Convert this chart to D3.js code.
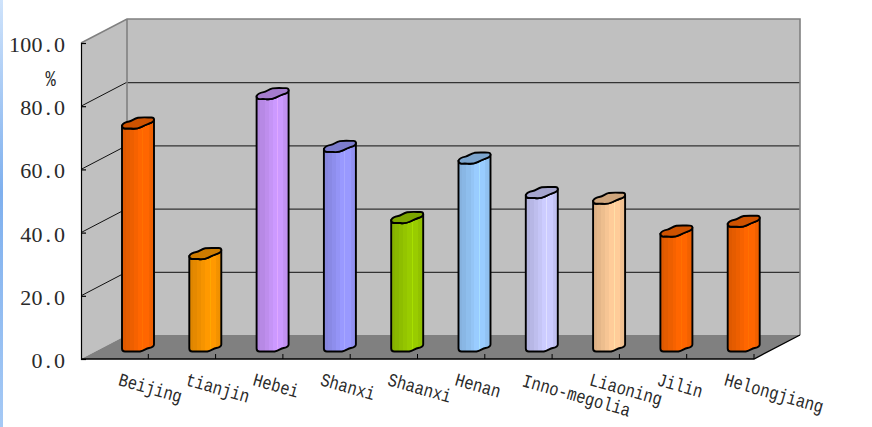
<!DOCTYPE html>
<html>
<head>
<meta charset="utf-8">
<script src="https://cdn.jsdelivr.net/npm/d3@7"></script>
<style>
html, body { margin: 0; padding: 0; background: #fff; }
svg { display: block; }
text { fill: #2a2a2a; }
</style>
</head>
<body>
<div id="chart"></div>
<script>
// Share (%) by province
const categories = ["Beijing", "tianjin", "Hebei", "Shanxi", "Shaanxi", "Henan", "Inno-megolia", "Liaoning", "Jilin", "Helongjiang"];
const values = [72.3, 31.0, 81.6, 64.9, 42.4, 61.2, 50.3, 48.5, 38.1, 41.2];
const barColors = ["#FF6600", "#FF9900", "#CC99FF", "#9999FF", "#99CC00", "#99CCFF", "#CCCCFF", "#FFCC99", "#FF6600", "#FF6600"];
const yTicks = [0, 20, 40, 60, 80, 100];
const yUnit = "%";

const width = 872, height = 427;
const plot = { left: 81, right: 754, top: 43, bottom: 359 };
const depth = { x: 46, y: -24 };

const x = d3.scaleBand().domain(categories).range([plot.left, plot.right]);
const y = d3.scaleLinear().domain([0, 100]).range([plot.bottom, plot.top]);

const svg = d3.select("#chart").append("svg").attr("width", width).attr("height", height);
const defs = svg.append("defs");

// Slide edge strip
const strip = defs.append("linearGradient").attr("id", "strip").attr("x1", 0).attr("x2", 0).attr("y1", 0).attr("y2", 1);
[[0, "#cfe3fb"], [0.45, "#7fb0ee"], [1, "#a5c9f5"]].forEach(([o, c]) => strip.append("stop").attr("offset", o).attr("stop-color", c));
svg.append("rect").attr("x", 0).attr("y", 0).attr("width", 3).attr("height", height).attr("fill", "url(#strip)");

const poly = pts => "M" + pts.map(p => p.join(",")).join("L") + "Z";
const front = { x0: plot.left, x1: plot.right, y0: y(0), y1: y(100) };

// Walls and floor of the box
svg.append("path").attr("fill", "#C0C0C0")
  .attr("d", poly([[front.x0, front.y0], [front.x0, front.y1], [front.x0 + depth.x, front.y1 + depth.y], [front.x0 + depth.x, front.y0 + depth.y]]));
svg.append("path").attr("fill", "#C0C0C0")
  .attr("d", poly([[front.x0 + depth.x, front.y1 + depth.y], [front.x1 + depth.x, front.y1 + depth.y], [front.x1 + depth.x, front.y0 + depth.y], [front.x0 + depth.x, front.y0 + depth.y]]));
svg.append("path").attr("fill", "#808080")
  .attr("d", poly([[front.x0, front.y0], [front.x1, front.y0], [front.x1 + depth.x, front.y0 + depth.y], [front.x0 + depth.x, front.y0 + depth.y]]));

// Gridlines running along both walls
const inner = yTicks.filter(t => t > 0 && t < 100);
const grid = svg.append("g").attr("fill", "none");
grid.selectAll("path.side").data(inner).join("path").attr("class", "side")
  .attr("stroke", "#111").attr("stroke-width", 1)
  .attr("d", t => `M${front.x0},${y(t)}L${front.x0 + depth.x},${y(t) + depth.y}`);
grid.selectAll("path.back").data(inner).join("path").attr("class", "back")
  .attr("stroke", "#333").attr("stroke-width", 1.2)
  .attr("d", t => `M${front.x0 + depth.x},${y(t) + depth.y + 0.5}L${front.x1 + depth.x},${y(t) + depth.y + 0.5}`);

// Grey box edges
svg.append("path").attr("fill", "none").attr("stroke", "#808080").attr("stroke-width", 1.6)
  .attr("d", `M${front.x0},${front.y1}L${front.x0 + depth.x},${front.y1 + depth.y}L${front.x1 + depth.x},${front.y1 + depth.y}L${front.x1 + depth.x},${front.y0 + depth.y}M${front.x0 + depth.x},${front.y1 + depth.y}L${front.x0 + depth.x},${front.y0 + depth.y}`);

// Axes on the front edge of the box
const yAxis = d3.axisRight(y).tickValues(yTicks).tickSize(5).tickFormat("");
const gy = svg.append("g").attr("transform", `translate(${plot.left},0)`).call(yAxis);
gy.selectAll("path, line").attr("stroke", "#000").attr("stroke-width", 1.2);

const xAxisGroup = svg.append("g");
xAxisGroup.append("path").attr("fill", "none").attr("stroke", "#000").attr("stroke-width", 1.4)
  .attr("d", `M${front.x0},${front.y0}L${front.x1},${front.y0}L${front.x1 + depth.x},${front.y0 + depth.y}`);
xAxisGroup.selectAll("line").data(categories).join("line")
  .attr("x1", d => x(d) + x.bandwidth()).attr("x2", d => x(d) + x.bandwidth())
  .attr("y1", y(0)).attr("y2", y(0) - 5)
  .attr("stroke", "#000");

// Value labels set in fixed-width cells, one glyph per cell
const cell = 11.2;
svg.append("g").selectAll("text").data(yTicks).join("text")
  .attr("font-family", '"Liberation Serif", serif')
  .attr("font-size", 22)
  .attr("y", t => y(t) + 9)
  .text(t => t.toFixed(1))
  .attr("x", function () {
    const s = this.textContent, start = 65 - s.length * cell;
    return Array.from(s, (ch, i) => start + i * cell + (cell - this.getSubStringLength(i, 1)) / 2).join(" ");
  });

svg.append("text").attr("font-family", '"Liberation Mono", monospace')
  .attr("font-size", 17).attr("text-anchor", "middle")
  .attr("transform", "translate(50.5,86) scale(1,1.25)")
  .text(yUnit);

// Bars: faceted cylinders with a wavy outline, standing inside the floor
const barOffset = 41, baseInset = 8;
const shade = (c, k) => d3.rgb(c).darker(k).formatHex();

barColors.forEach((c, i) => {
  const g = defs.append("linearGradient").attr("id", "bar" + i);
  const lit = d3.rgb(c).brighter(0.25).formatHex();
  const stops = [
    [0, shade(c, 0.38)], [0.12, shade(c, 0.38)], [0.12, shade(c, 0.3)], [0.25, shade(c, 0.3)],
    [0.25, shade(c, 0.2)], [0.38, shade(c, 0.2)], [0.38, shade(c, 0.1)], [0.5, shade(c, 0.1)],
    [0.5, c], [0.64, c], [0.64, lit], [0.67, lit],
    [0.67, c], [0.84, c], [0.84, shade(c, 0.12)], [1, shade(c, 0.2)]
  ];
  stops.forEach(([o, col]) => g.append("stop").attr("offset", o).attr("stop-color", col));
});

const bars = svg.append("g").selectAll("g").data(categories).join("g")
  .attr("transform", d => `translate(${x(d) + barOffset},0)`);

function frontEdge(t) {
  return `C32,${t - 3} 30.5,${t - 2} 27,${t - 1}C24,${t} 22,${t + 1} 19,${t + 2.5}C16,${t + 4} 13,${t + 4.5} 9,${t + 4}C6,${t + 3.8} 4,${t + 4} 3,${t + 4}C1,${t + 4} 0,${t + 2.5} 0,${t + 1}`;
}
function topFace(t) {
  return `M32,${t - 5}${frontEdge(t)}C1,${t - 1.5} 4,${t - 2.5} 7,${t - 3}C10,${t - 3.5} 12,${t - 6} 16,${t - 6.8}C20,${t - 7.4} 26,${t - 7} 29.5,${t - 7}C31.5,${t - 7} 32,${t - 6} 32,${t - 5}Z`;
}
function body(t, b) {
  return `M32,${t - 5}${frontEdge(t)}L0,${b - 3}C0,${b - 1} 1,${b} 3,${b}C6,${b} 13,${b} 18,${b}C22,${b - 1} 24,${b - 3} 27,${b - 3.5}C30,${b - 4} 32,${b - 5} 32,${b - 7}Z`;
}

bars.append("path")
  .attr("d", (d, i) => body(y(values[i]) - 6, y(0) - baseInset + 0.5))
  .attr("fill", (d, i) => `url(#bar${i})`)
  .attr("stroke", "#000").attr("stroke-width", 1.9).attr("stroke-linejoin", "round");
bars.append("path")
  .attr("d", (d, i) => topFace(y(values[i]) - 6))
  .attr("fill", (d, i) => shade(barColors[i], 0.6))
  .attr("stroke", "#000").attr("stroke-width", 1.9).attr("stroke-linejoin", "round");

// Category labels slanted under the floor edge
svg.append("g").selectAll("text").data(categories).join("text")
  .attr("font-family", '"Liberation Mono", monospace')
  .attr("font-size", 15.5)
  .attr("transform", d => `translate(${x(d) + barOffset - 4.5},${d === "Inno-megolia" ? 386 : 385}) rotate(16) scale(1,1.2)`)
  .text(d => d);
</script>
</body>
</html>
